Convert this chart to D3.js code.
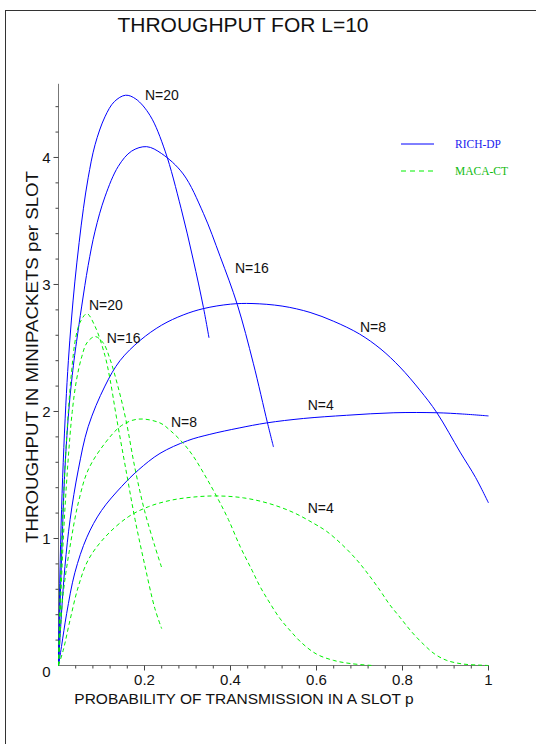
<!DOCTYPE html>
<html>
<head>
<meta charset="utf-8">
<script src="https://cdn.jsdelivr.net/npm/d3@7"></script>
<style>
  body { margin: 0; background: #fff; }
  svg text { fill: #111; }
</style>
</head>
<body>
<div id="chart"></div>
<script>
// RICH-DP (solid blue)
var richN20P = [0, 0.002, 0.006, 0.011, 0.017, 0.023, 0.03, 0.038, 0.048, 0.058, 0.069, 0.085, 0.108, 0.13, 0.156, 0.18, 0.213, 0.248, 0.285, 0.313, 0.337, 0.35];
var richN20V = [0, 0.5, 1.1, 1.6, 2.05, 2.4, 2.72, 3.02, 3.33, 3.6, 3.84, 4.1, 4.32, 4.44, 4.49, 4.46, 4.33, 4.05, 3.6, 3.2, 2.82, 2.58];
var richN16P = [0, 0.003, 0.007, 0.015, 0.025, 0.036, 0.042, 0.054, 0.069, 0.085, 0.108, 0.139, 0.17, 0.205, 0.24, 0.29, 0.337, 0.376, 0.416, 0.453, 0.486, 0.5];
var richN16V = [0, 0.4, 0.83, 1.55, 2.05, 2.4, 2.55, 2.83, 3.15, 3.42, 3.69, 3.93, 4.05, 4.085, 4.03, 3.87, 3.56, 3.22, 2.84, 2.38, 1.91, 1.72];
var richN8P = [0, 0.006, 0.015, 0.027, 0.046, 0.069, 0.108, 0.143, 0.19, 0.24, 0.29, 0.337, 0.4, 0.45, 0.52, 0.585, 0.64, 0.7, 0.75, 0.794, 0.84, 0.88, 0.934, 0.97, 1.0];
var richN8V = [0, 0.36, 0.78, 1.15, 1.54, 1.88, 2.2, 2.4, 2.56, 2.68, 2.76, 2.81, 2.845, 2.85, 2.83, 2.78, 2.71, 2.61, 2.49, 2.35, 2.17, 1.99, 1.68, 1.48, 1.28];
var richN4P = [0, 0.007, 0.019, 0.038, 0.066, 0.1, 0.147, 0.186, 0.236, 0.3, 0.352, 0.42, 0.484, 0.57, 0.67, 0.78, 0.88, 0.94, 1.0];
var richN4V = [0, 0.15, 0.41, 0.73, 1.01, 1.22, 1.41, 1.54, 1.67, 1.77, 1.82, 1.87, 1.91, 1.945, 1.97, 1.99, 1.99, 1.98, 1.965];

// MACA-CT (dashed green)
var macaN20P = [0, 0.004, 0.01, 0.02, 0.03, 0.04, 0.05, 0.066, 0.085, 0.108, 0.12, 0.135, 0.159, 0.178, 0.2, 0.224, 0.24];
var macaN20V = [0, 0.6, 1.2, 1.85, 2.3, 2.58, 2.7, 2.77, 2.67, 2.44, 2.25, 1.95, 1.5, 1.15, 0.8, 0.45, 0.29];
var macaN16P = [0, 0.005, 0.012, 0.022, 0.032, 0.042, 0.054, 0.066, 0.085, 0.104, 0.12, 0.138, 0.157, 0.178, 0.2, 0.224, 0.24];
var macaN16V = [0, 0.5, 1.05, 1.6, 2.0, 2.25, 2.43, 2.54, 2.59, 2.54, 2.41, 2.2, 1.93, 1.55, 1.22, 0.94, 0.77];
var macaN8P = [0, 0.004, 0.011, 0.027, 0.046, 0.069, 0.108, 0.147, 0.186, 0.236, 0.26, 0.29, 0.313, 0.34, 0.368, 0.395, 0.422, 0.45, 0.469, 0.49, 0.515, 0.54, 0.565, 0.6, 0.64, 0.68, 0.73];
var macaN8V = [0, 0.25, 0.57, 0.94, 1.28, 1.54, 1.75, 1.89, 1.94, 1.91, 1.85, 1.75, 1.65, 1.5, 1.33, 1.15, 0.94, 0.75, 0.62, 0.5, 0.37, 0.27, 0.18, 0.09, 0.04, 0.015, 0];
var macaN4P = [0, 0.011, 0.027, 0.046, 0.069, 0.108, 0.162, 0.209, 0.26, 0.31, 0.368, 0.43, 0.49, 0.546, 0.593, 0.624, 0.66, 0.694, 0.72, 0.748, 0.77, 0.794, 0.82, 0.848, 0.875, 0.903, 0.94, 0.98, 1.0];
var macaN4V = [0, 0.12, 0.36, 0.62, 0.83, 1.01, 1.17, 1.25, 1.3, 1.325, 1.335, 1.32, 1.275, 1.205, 1.12, 1.055, 0.95, 0.83, 0.72, 0.59, 0.48, 0.38, 0.27, 0.17, 0.09, 0.04, 0.012, 0.003, 0];

var xTicks = [0.2, 0.4, 0.6, 0.8, 1];
var yTicks = [1, 2, 3, 4];

var curveLabels = [
  {text: "N=20", p: 0.201, v: 4.453},
  {text: "N=16", p: 0.4105, v: 3.091},
  {text: "N=8", p: 0.701, v: 2.626},
  {text: "N=4", p: 0.5795, v: 2.012},
  {text: "N=20", p: 0.0709, v: 2.80},
  {text: "N=16", p: 0.112, v: 2.539},
  {text: "N=8", p: 0.2616, v: 1.880},
  {text: "N=4", p: 0.5795, v: 1.201}
];

var blue = "#0000ff", green = "#00f000";
var sans = "'Liberation Sans', Arial, sans-serif";
var serif = "'Liberation Serif', 'Times New Roman', serif";

var series = [
  {name: "RICH-DP", color: blue, dash: null, p: richN20P, v: richN20V},
  {name: "RICH-DP", color: blue, dash: null, p: richN16P, v: richN16V},
  {name: "RICH-DP", color: blue, dash: null, p: richN8P, v: richN8V},
  {name: "RICH-DP", color: blue, dash: null, p: richN4P, v: richN4V},
  {name: "MACA-CT", color: green, dash: "4,3", p: macaN20P, v: macaN20V},
  {name: "MACA-CT", color: green, dash: "4,3", p: macaN16P, v: macaN16V},
  {name: "MACA-CT", color: green, dash: "4,3", p: macaN8P, v: macaN8V},
  {name: "MACA-CT", color: green, dash: "4,3", p: macaN4P, v: macaN4V}
];

var width = 536, height = 744;

var svg = d3.select("#chart").append("svg")
    .attr("width", width)
    .attr("height", height)
    .style("font-family", sans);

// outer frame (runs off the page on the right and bottom)
svg.append("rect")
    .attr("x", 5.5).attr("y", 10.5)
    .attr("width", 700).attr("height", 900)
    .attr("fill", "none")
    .attr("stroke", "#333")
    .attr("stroke-width", 1);

var x = d3.scaleLinear().domain([0, 1]).range([58.5, 488.5]);
var y = d3.scaleLinear().domain([0, 4.58]).range([665.5, 83.8]);

// title
svg.append("text")
    .attr("x", 243).attr("y", 32)
    .attr("text-anchor", "middle")
    .attr("font-size", "21px")
    .text("THROUGHPUT FOR L=10");

// axes
var axisColor = "#777";
var xAxis = svg.append("g").attr("transform", "translate(0," + y(0) + ")");
xAxis.append("line")
    .attr("x1", x(0)).attr("x2", x(1))
    .attr("stroke", axisColor);
xAxis.selectAll(".minor")
    .data(d3.range(1, 26).map(function(i) { return i * 0.04; }))
  .enter().append("line")
    .attr("x1", function(d) { return x(d); })
    .attr("x2", function(d) { return x(d); })
    .attr("y1", 0)
    .attr("y2", function(d, i) { return (i + 1) % 5 === 0 ? 5 : 3; })
    .attr("stroke", "#444");
xAxis.selectAll(".lbl")
    .data(xTicks)
  .enter().append("text")
    .attr("x", function(d) { return x(d); })
    .attr("y", 19.5)
    .attr("text-anchor", "middle")
    .attr("font-size", "15px")
    .text(function(d) { return d3.format("~g")(d); });

var yAxis = svg.append("g").attr("transform", "translate(" + x(0) + ",0)");
yAxis.append("line")
    .attr("y1", y(0)).attr("y2", y.range()[1])
    .attr("stroke", axisColor);
yAxis.selectAll(".minor")
    .data(d3.range(1, 23).map(function(i) { return i * 0.2; }))
  .enter().append("line")
    .attr("y1", function(d) { return y(d); })
    .attr("y2", function(d) { return y(d); })
    .attr("x1", 0)
    .attr("x2", function(d, i) { return (i + 1) % 5 === 0 ? -5 : -3; })
    .attr("stroke", "#444");
yAxis.selectAll(".lbl")
    .data(yTicks)
  .enter().append("text")
    .attr("x", -8)
    .attr("y", function(d) { return y(d); })
    .attr("dy", "0.36em")
    .attr("text-anchor", "end")
    .attr("font-size", "15px")
    .text(function(d) { return d; });
yAxis.append("text")
    .attr("x", -8)
    .attr("y", y(0) + 6)
    .attr("dy", "0.36em")
    .attr("text-anchor", "end")
    .attr("font-size", "15px")
    .text("0");

// axis titles
svg.append("text")
    .attr("x", 244).attr("y", 704)
    .attr("text-anchor", "middle")
    .attr("font-size", "15.5px")
    .text("PROBABILITY OF TRANSMISSION IN A SLOT p");

svg.append("text")
    .attr("transform", "translate(38,357) rotate(-90)")
    .attr("text-anchor", "middle")
    .attr("font-size", "16.5px")
    .attr("textLength", 372)
    .attr("lengthAdjust", "spacingAndGlyphs")
    .text("THROUGHPUT IN MINIPACKETS per SLOT");

// curves
var line = d3.line()
    .x(function(d) { return x(d[0]); })
    .y(function(d) { return y(d[1]); })
    .curve(d3.curveCatmullRom.alpha(0.5));

svg.append("g").selectAll("path")
    .data(series)
  .enter().append("path")
    .attr("d", function(s) { return line(d3.zip(s.p, s.v)); })
    .attr("fill", "none")
    .attr("stroke", function(s) { return s.color; })
    .attr("stroke-width", 1)
    .attr("stroke-dasharray", function(s) { return s.dash; });

svg.append("g").selectAll("text")
    .data(curveLabels)
  .enter().append("text")
    .attr("x", function(d) { return x(d.p); })
    .attr("y", function(d) { return y(d.v); })
    .attr("font-size", "14px")
    .text(function(d) { return d.text; });

// legend
var legend = svg.append("g").attr("transform", "translate(401,144)");
var legendItems = [
  {name: "RICH-DP", color: blue, dash: null, text: "#2222ee"},
  {name: "MACA-CT", color: green, dash: "5,4", text: "#11bb11"}
];
var li = legend.selectAll("g")
    .data(legendItems)
  .enter().append("g")
    .attr("transform", function(d, i) { return "translate(0," + (i * 27) + ")"; });
li.append("line")
    .attr("x1", 0).attr("x2", 33)
    .attr("stroke", function(d) { return d.color; })
    .attr("stroke-width", 1)
    .attr("stroke-dasharray", function(d) { return d.dash; });
li.append("text")
    .attr("x", 54).attr("y", 4)
    .style("font-family", serif)
    .attr("font-size", "11.5px")
    .style("fill", function(d) { return d.text; })
    .text(function(d) { return d.name; });
</script>
</body>
</html>
